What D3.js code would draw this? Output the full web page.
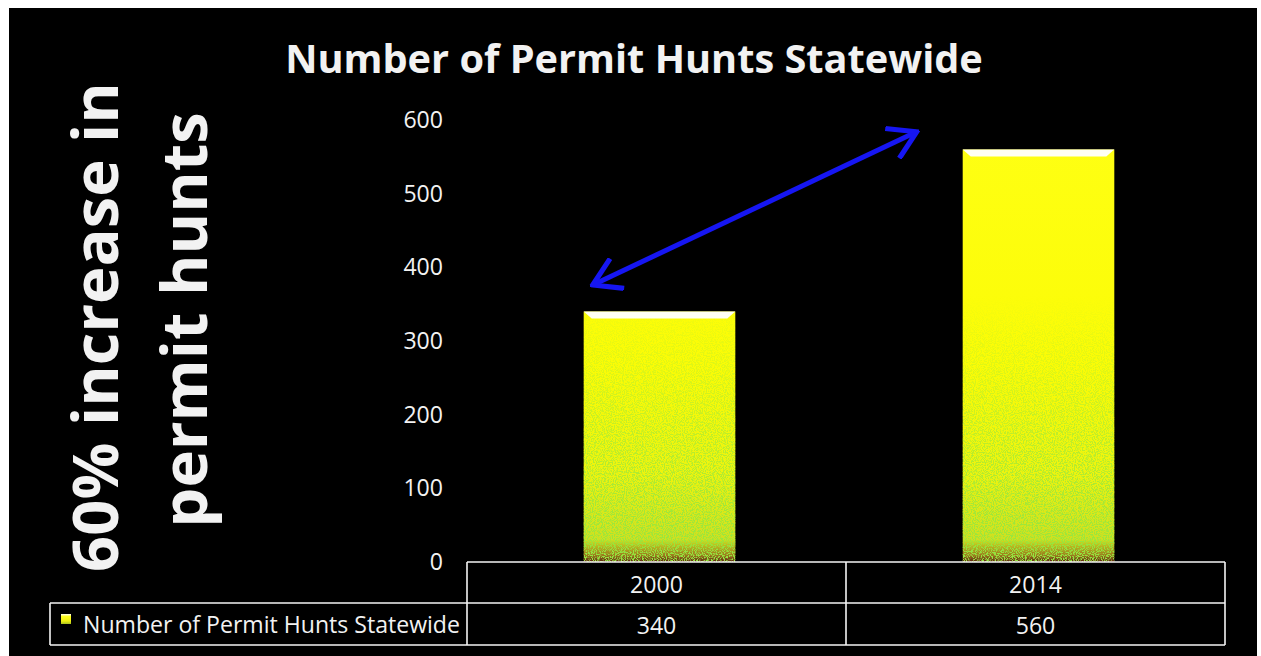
<!DOCTYPE html>
<html>
<head>
<meta charset="utf-8">
<script src="https://cdn.jsdelivr.net/npm/d3@7"></script>
<style>
  body { margin: 0; background: #fff; }
  svg { display: block; }
</style>
</head>
<body>
<div id="chart"></div>
<script>
// Chart data
const categories = ["2000", "2014"];
const values = [340, 560];
const seriesName = "Number of Permit Hunts Statewide";
const yTicks = [0, 100, 200, 300, 400, 500, 600];
const chartTitle = "Number of Permit Hunts Statewide";
const sideNote = ["60% increase in", "permit hunts"];
// arrow runs between these two values (annotation)
const arrowFrom = {cat: "2000", value: 376};
const arrowTo = {cat: "2014", value: 584};

const W = 1261, H = 656;
const fontFam = "'Open Sans', 'DejaVu Sans', sans-serif";
const textCol = "#f2f2f2";

const svg = d3.select("#chart")
    .append("svg")
    .attr("width", W)
    .attr("height", H);

// black slide background
svg.append("rect")
    .attr("x", 9).attr("y", 8)
    .attr("width", 1248).attr("height", 648)
    .attr("fill", "#000");

// Scales
const xScale = d3.scaleBand()
    .domain(categories)
    .range([470, 1228])
    .paddingInner(0.6)
    .paddingOuter(0.3);
const yScale = d3.scaleLinear()
    .domain([0, 600])
    .range([562, 120]);

// scale a text element so it spans the given width
function fitWidth(sel, target) {
    const w = sel.node().getComputedTextLength();
    const s = parseFloat(sel.attr("font-size")) * target / w;
    sel.attr("font-size", s);
    return s;
}

// Defs: bar gradient, speckle filter, fade mask, arrow head
const defs = svg.append("defs");

const grad = defs.append("linearGradient")
    .attr("id", "barGrad")
    .attr("gradientUnits", "userSpaceOnUse")
    .attr("x1", 0).attr("y1", yScale(600))
    .attr("x2", 0).attr("y2", yScale(0));
[[0, "#ffff14"], [0.55, "#fbfc06"], [0.8, "#eef40e"], [0.95, "#cfe020"], [0.985, "#9a7a1c"], [1, "#5a1e10"]]
    .forEach(s => grad.append("stop").attr("offset", s[0]).attr("stop-color", s[1]));

const iconGrad = defs.append("linearGradient")
    .attr("id", "iconGrad")
    .attr("x1", 0).attr("y1", 0).attr("x2", 0).attr("y2", 1);
[[0, "#ffffff"], [0.25, "#ffff20"], [0.7, "#f0f010"], [1, "#a8c020"]]
    .forEach(s => iconGrad.append("stop").attr("offset", s[0]).attr("stop-color", s[1]));

const fade = defs.append("linearGradient")
    .attr("id", "fadeGrad")
    .attr("gradientUnits", "userSpaceOnUse")
    .attr("x1", 0).attr("y1", yScale(360))
    .attr("x2", 0).attr("y2", yScale(0));
[[0, "#000"], [0.5, "#888"], [1, "#fff"]]
    .forEach(s => fade.append("stop").attr("offset", s[0]).attr("stop-color", s[1]));
defs.append("mask")
    .attr("id", "fadeMask")
    .attr("maskUnits", "userSpaceOnUse")
    .attr("x", 0).attr("y", 0).attr("width", W).attr("height", H)
    .append("rect")
    .attr("x", 0).attr("y", 0).attr("width", W).attr("height", H)
    .attr("fill", "url(#fadeGrad)");

const speckle = defs.append("filter")
    .attr("id", "speckle")
    .attr("x", 0).attr("y", 0).attr("width", 1).attr("height", 1);
speckle.append("feTurbulence")
    .attr("type", "fractalNoise")
    .attr("baseFrequency", 0.9)
    .attr("numOctaves", 2)
    .attr("seed", 4)
    .attr("result", "noise");
speckle.append("feColorMatrix")
    .attr("in", "noise")
    .attr("type", "matrix")
    .attr("values", "0 0 0 0 0.3  0 0 0 0 0.8  0 0 0 0 0.05  7 0 0 0 -3.2")
    .attr("result", "green");
speckle.append("feComposite")
    .attr("in", "green")
    .attr("in2", "SourceAlpha")
    .attr("operator", "in");

const arrowCol = "#1616f2";
defs.append("marker")
    .attr("id", "arrowHead")
    .attr("viewBox", "0 0 12 12")
    .attr("refX", 11).attr("refY", 6)
    .attr("markerUnits", "userSpaceOnUse")
    .attr("markerWidth", 36).attr("markerHeight", 36)
    .attr("orient", "auto-start-reverse")
    .append("path")
    .attr("d", "M2,0.5 L11,6 L2,11.5")
    .attr("fill", "none")
    .attr("stroke", arrowCol)
    .attr("stroke-width", 1.7)
    .attr("stroke-linejoin", "miter");

// Title
const title = svg.append("text")
    .attr("x", 634).attr("y", 73)
    .attr("text-anchor", "middle")
    .attr("font-family", fontFam)
    .attr("font-weight", 700)
    .attr("font-size", 36)
    .attr("fill", textCol)
    .text(chartTitle);
fitWidth(title, 698);

// Side note, rotated
const note1 = svg.append("text")
    .attr("transform", "translate(118,327) rotate(-90)")
    .attr("text-anchor", "middle")
    .attr("font-family", fontFam)
    .attr("font-weight", 700)
    .attr("font-size", 60)
    .attr("fill", textCol)
    .text(sideNote[0]);
const noteSize = fitWidth(note1, 490);
svg.append("text")
    .attr("transform", "translate(207,320) rotate(-90)")
    .attr("text-anchor", "middle")
    .attr("font-family", fontFam)
    .attr("font-weight", 700)
    .attr("font-size", noteSize)
    .attr("fill", textCol)
    .text(sideNote[1]);

// Legend text first, to get the small font size
const legendText = svg.append("text")
    .attr("x", 83).attr("y", 624)
    .attr("dominant-baseline", "central")
    .attr("font-family", fontFam)
    .attr("font-size", 22)
    .attr("fill", textCol)
    .text(seriesName);
const small = fitWidth(legendText, 377);

// Table geometry (category columns sit under the bars)
const tLeft = 50, cLeft = 467, tRight = 1225;
const rTop = yScale(0), rMid = 603, rBot = 645;
const colW = (tRight - cLeft) / categories.length;
const colEdges = [cLeft].concat(categories.map((c, i) => cLeft + colW * (i + 1)));

// Y axis
const yAxis = svg.append("g")
    .attr("transform", `translate(${cLeft},0)`)
    .call(d3.axisLeft(yScale).tickValues(yTicks).tickSize(0).tickPadding(24));
yAxis.select(".domain").remove();
yAxis.selectAll("text")
    .attr("fill", textCol)
    .attr("font-family", fontFam)
    .attr("font-size", small);

// Bars
const data = categories.map((c, i) => ({cat: c, value: values[i]}));

svg.selectAll(".bar")
    .data(data)
    .join("rect")
    .attr("class", "bar")
    .attr("x", d => xScale(d.cat))
    .attr("y", d => yScale(d.value))
    .attr("width", xScale.bandwidth())
    .attr("height", d => yScale(0) - yScale(d.value))
    .attr("fill", "url(#barGrad)");

svg.selectAll(".speck")
    .data(data)
    .join("rect")
    .attr("class", "speck")
    .attr("x", d => xScale(d.cat))
    .attr("y", d => yScale(d.value))
    .attr("width", xScale.bandwidth())
    .attr("height", d => yScale(0) - yScale(d.value))
    .attr("fill", "#fff")
    .attr("filter", "url(#speckle)")
    .attr("mask", "url(#fadeMask)");

// white bevel on the bar tops
svg.selectAll(".bevel")
    .data(data)
    .join("polygon")
    .attr("class", "bevel")
    .attr("points", d => {
        const x0 = xScale(d.cat), x1 = x0 + xScale.bandwidth(), y0 = yScale(d.value);
        return [[x0, y0], [x1, y0], [x1 - 8, y0 + 7], [x0 + 8, y0 + 7]].join(" ");
    })
    .attr("fill", "#fffff4");

// Arrow annotation
svg.append("line")
    .attr("x1", xScale(arrowFrom.cat) + 9)
    .attr("y1", yScale(arrowFrom.value))
    .attr("x2", xScale(arrowTo.cat) - 46)
    .attr("y2", yScale(arrowTo.value))
    .attr("stroke", arrowCol)
    .attr("stroke-width", 5)
    .attr("marker-start", "url(#arrowHead)")
    .attr("marker-end", "url(#arrowHead)");

// Data table under the plot
const tbl = svg.append("g")
    .attr("stroke", "#f4f4f4")
    .attr("stroke-width", 1.6)
    .attr("fill", "none");
tbl.append("line").attr("x1", cLeft).attr("x2", tRight).attr("y1", rTop).attr("y2", rTop);
tbl.append("line").attr("x1", tLeft).attr("x2", tRight).attr("y1", rMid).attr("y2", rMid);
tbl.append("line").attr("x1", tLeft).attr("x2", tRight).attr("y1", rBot).attr("y2", rBot);
tbl.append("line").attr("x1", tLeft).attr("x2", tLeft).attr("y1", rMid).attr("y2", rBot);
tbl.selectAll(".col")
    .data(colEdges)
    .join("line")
    .attr("x1", d => d).attr("x2", d => d)
    .attr("y1", rTop).attr("y2", rBot);

svg.selectAll(".catLabel")
    .data(data)
    .join("text")
    .attr("class", "catLabel")
    .attr("x", (d, i) => cLeft + colW * (i + 0.5))
    .attr("y", (rTop + rMid) / 2 + 1)
    .attr("text-anchor", "middle")
    .attr("dominant-baseline", "central")
    .attr("font-family", fontFam)
    .attr("font-size", small)
    .attr("fill", textCol)
    .text(d => d.cat);

svg.selectAll(".valLabel")
    .data(data)
    .join("text")
    .attr("class", "valLabel")
    .attr("x", (d, i) => cLeft + colW * (i + 0.5))
    .attr("y", (rMid + rBot) / 2 + 1)
    .attr("text-anchor", "middle")
    .attr("dominant-baseline", "central")
    .attr("font-family", fontFam)
    .attr("font-size", small)
    .attr("fill", textCol)
    .text(d => d.value);

// legend marker
svg.append("rect")
    .attr("x", 61).attr("y", 614)
    .attr("width", 10).attr("height", 10)
    .attr("fill", "url(#iconGrad)");
</script>
</body>
</html>
